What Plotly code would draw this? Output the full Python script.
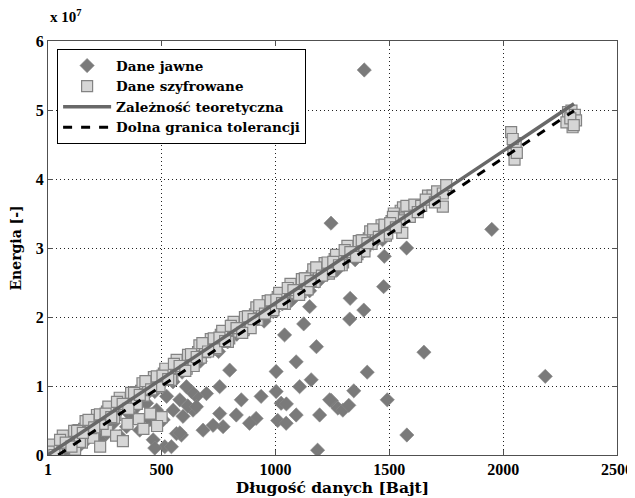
import plotly.graph_objects as go

# ---------------- data (energy in units of 10^7) ----------------
sq_x = [10, 22, 35, 47, 60, 72, 85, 97, 110, 122, 135, 147, 160, 172, 185, 197, 210, 222, 235, 247,
        260, 272, 285, 297, 310, 322, 335, 347, 360, 372, 385, 397, 410, 422, 435, 447, 460, 472, 485, 497,
        510, 522, 535, 547, 560, 572, 585, 597, 610, 622, 635, 647, 660, 672, 685, 697, 710, 722, 735, 747,
        760, 772, 785, 797, 810, 822, 835, 847, 860, 872, 885, 897, 910, 922, 935, 947, 960, 972, 985, 997,
        1010, 1022, 1035, 1047, 1060, 1072, 1085, 1097, 1110, 1122, 1135, 1147, 1160, 1172, 1185, 1197,
        1210, 1222, 1235, 1247, 1260, 1272, 1285, 1297, 1310, 1322, 1335, 1347, 1360, 1372, 1385, 1397,
        1410, 1422, 1435, 1447, 1460, 1472, 1485, 1497, 1510, 1530, 1550, 1560, 1575, 1590, 1610, 1640,
        1670, 1690, 1710, 1735, 1750, 1557, 1735, 1520, 1545, 1625, 1660, 1700,
        2035, 2045, 2050, 2055, 2060, 2042,
        2285, 2300, 2315, 2305, 2278, 2320, 2295, 2310,
        150, 200, 260, 300, 350, 400, 450, 500, 230, 120, 330, 420, 480,
        16, 41, 66, 91, 116, 141, 166, 191, 216, 241, 266, 291, 316, 341, 366, 391, 416, 441, 466, 491,
        516, 541, 566, 591, 616, 641, 666, 691, 716, 741, 766, 791, 816, 841, 866, 891, 916, 941, 966, 991,
        1016, 1041, 1066, 1091, 1116, 1141, 1166, 1191, 1216, 1241, 1266, 1291, 1316, 1341, 1366, 1391,
        1416, 1441, 1466, 1491, 1516,
        4, 29, 54, 79, 104, 129, 154, 179, 204, 229, 254, 279, 304, 329, 354, 379, 404, 429, 454, 479,
        504, 529, 554, 579, 604, 629, 654, 679, 704, 729, 754, 779, 804, 829, 854, 879, 904, 929, 954, 979,
        1004, 1029, 1054, 1079, 1104, 1129, 1154, 1179, 1204, 1229, 1254, 1279, 1304, 1329, 1354, 1379,
        1404, 1429, 1454, 1479, 1504, 1529]
sq_y = [0.08, 0.03, 0.11, 0.03, 0.21, 0.16, 0.15, 0.26, 0.15, 0.29, 0.36, 0.30, 0.38, 0.31, 0.49, 0.43, 0.42, 0.54, 0.43, 0.56,
        0.63, 0.58, 0.66, 0.58, 0.76, 0.71, 0.70, 0.81, 0.70, 0.84, 0.91, 0.86, 0.93, 0.86, 1.04, 0.99, 0.97, 1.09, 0.98, 1.12,
        1.18, 1.13, 1.21, 1.14, 1.31, 1.26, 1.25, 1.37, 1.25, 1.39, 1.46, 1.41, 1.49, 1.41, 1.59, 1.54, 1.53, 1.64, 1.53, 1.67,
        1.74, 1.68, 1.76, 1.69, 1.87, 1.81, 1.80, 1.92, 1.81, 1.94, 2.01, 1.96, 2.04, 1.96, 2.14, 2.09, 2.08, 2.19, 2.08, 2.22,
        2.29, 2.23, 2.31, 2.24, 2.42, 2.36, 2.35, 2.47, 2.36, 2.49, 2.56, 2.51, 2.59, 2.51, 2.69, 2.64,
        2.63, 2.74, 2.63, 2.77, 2.84, 2.78, 2.86, 2.79, 2.97, 2.91, 2.90, 3.02, 2.91, 3.04, 3.11, 3.06,
        3.14, 3.06, 3.24, 3.19, 3.18, 3.29, 3.18, 3.32, 3.39, 3.35, 3.54, 3.59, 3.61, 3.45, 3.63, 3.61,
        3.76, 3.76, 3.82, 3.79, 3.91, 3.22, 3.60, 3.50, 3.40, 3.52, 3.70, 3.66,
        4.68, 4.45, 4.28, 4.52, 4.38, 4.58,
        4.97, 4.99, 4.93, 4.75, 4.82, 4.85, 4.88, 4.78,
        0.18, 0.25, 0.35, 0.28, 0.45, 0.52, 0.60, 0.55, 0.12, 0.08, 0.20, 0.38, 0.42,
        0.15, 0.01, 0.28, 0.14, 0.35, 0.19, 0.49, 0.39, 0.58, 0.45, 0.70, 0.54, 0.83, 0.69, 0.90, 0.74, 1.04, 0.94, 1.13, 1.00,
        1.25, 1.09, 1.38, 1.24, 1.45, 1.29, 1.59, 1.49, 1.68, 1.55, 1.80, 1.64, 1.93, 1.79, 2.00, 1.84, 2.14, 2.04, 2.23, 2.10,
        2.35, 2.19, 2.48, 2.35, 2.55, 2.40, 2.69, 2.60, 2.78, 2.66, 2.90, 2.75, 3.03, 2.90, 3.10, 2.95,
        3.24, 3.15, 3.33, 3.21, 3.45,
        0.05, 0.00, 0.22, 0.18, 0.12, 0.35, 0.32, 0.51, 0.40, 0.59, 0.60, 0.55, 0.77, 0.74, 0.67, 0.90, 0.87, 1.07, 0.95, 1.14,
        1.15, 1.10, 1.32, 1.29, 1.22, 1.46, 1.42, 1.62, 1.50, 1.69, 1.70, 1.65, 1.87, 1.84, 1.77, 2.01, 1.97, 2.17, 2.05, 2.24,
        2.25, 2.20, 2.42, 2.39, 2.32, 2.56, 2.52, 2.72, 2.60, 2.79, 2.80, 2.75, 2.97, 2.94, 2.87, 3.11,
        3.07, 3.27, 3.16, 3.34, 3.36, 3.30]

dj_x = [30, 70, 110, 150, 190, 230, 270, 310, 350, 390, 430, 470, 510, 550, 590, 630, 670, 710, 750, 790,
        830, 870, 910, 950, 990, 1030, 1070, 1110, 1150, 1190, 1230, 1270, 1310, 1350, 1390, 1430, 1470,
        50, 90, 130, 170, 210, 250, 290, 330, 370, 410, 450, 490, 530, 570, 610, 650, 690, 730, 770, 810,
        850, 890, 930, 970, 1010, 1050, 1090, 1130, 1170, 1210, 1250, 1290, 1330, 1370, 1410, 1450,
        1390, 1244, 1950, 1576, 1478, 1475, 1328, 1388, 1326, 1180, 1652, 1403, 1344, 1245, 1274, 1296,
        1322, 1491, 1577, 1194, 1185, 2185, 1157, 1106, 1124, 1150, 1040, 1091, 1003, 799, 1238, 937,
        1003, 1025, 1048, 1091, 1010, 1047, 915, 886, 828, 850, 755, 770, 726, 682, 755, 697, 653, 580,
        638, 594, 587, 615, 631, 653, 551, 565, 507, 478, 448, 463, 514, 404, 382, 346, 317, 287, 258,
        229, 200, 171, 141, 112, 68, 434, 390, 522, 609, 470, 543, 580]
dj_y = [0.01, 0.03, 0.19, 0.18, 0.32, 0.43, 0.48, 0.63, 0.62, 0.76, 0.87, 0.92, 1.07, 1.06, 1.20, 1.31, 1.36, 1.51, 1.50, 1.64,
        1.75, 1.80, 1.96, 1.94, 2.08, 2.19, 2.24, 2.40, 2.38, 2.52, 2.63, 2.68, 2.84, 2.83, 2.96, 3.07, 3.12,
        0.07, 0.23, 0.25, 0.41, 0.42, 0.58, 0.60, 0.76, 0.78, 0.93, 0.95, 1.11, 1.13, 1.29, 1.30, 1.46, 1.48, 1.64, 1.66, 1.82,
        1.83, 1.99, 2.01, 2.17, 2.19, 2.34, 2.36, 2.52, 2.54, 2.70, 2.72, 2.87, 2.89, 3.05, 3.07, 3.23,
        5.58, 3.36, 3.27, 3.00, 2.88, 2.44, 2.27, 2.10, 1.97, 1.57, 1.49, 1.20, 0.93, 0.79, 0.68, 0.65,
        0.72, 0.80, 0.29, 0.58, 0.07, 1.14, 1.09, 0.99, 1.90, 2.15, 1.74, 1.35, 1.21, 1.23, 0.80, 0.85,
        0.92, 0.75, 0.74, 0.58, 0.50, 0.46, 0.53, 0.46, 0.58, 0.80, 0.60, 0.41, 0.43, 0.36, 0.99, 0.89, 0.85, 0.80,
        0.65, 0.56, 0.29, 0.71, 0.92, 0.70, 0.65, 0.31, 0.51, 0.65, 0.51, 0.22, 0.12, 0.36, 0.56, 0.41, 0.27, 0.46, 0.31,
        0.22, 0.36, 0.22, 0.14, 0.07, 0.05, 0.75, 0.70, 0.85, 0.99, 0.10, 0.12, 0.32]

theory_x = [1, 2311]
theory_y = [0.0022, 5.09]
lower_x = [46, 2311]
lower_y = [0.0, 4.99]

x_ticks = [1, 500, 1000, 1500, 2000, 2500]
y_ticks = [0, 1, 2, 3, 4, 5, 6]

TICK_FONT = "Liberation Serif"
TEXT_FONT = "DejaVu Serif"

fig = go.Figure()
fig.add_trace(go.Scatter(x=dj_x, y=dj_y, mode="markers", name="<b>Dane jawne</b>",
                         marker=dict(symbol="diamond", size=11, color="#7a7a7a",
                                     line=dict(width=0.6, color="#888888"))))
fig.add_trace(go.Scatter(x=sq_x, y=sq_y, mode="markers", name="<b>Dane szyfrowane</b>",
                         marker=dict(symbol="square", size=11, color="#d6d6d6",
                                     line=dict(width=1.2, color="#838383"))))
fig.add_trace(go.Scatter(x=theory_x, y=theory_y, mode="lines", name="<b>Zależność teoretyczna</b>",
                         line=dict(color="#686868", width=3.5)))
fig.add_trace(go.Scatter(x=lower_x, y=lower_y, mode="lines", name="<b>Dolna granica tolerancji</b>",
                         line=dict(color="black", width=3, dash="dash")))

axis_common = dict(showline=True, linecolor="#505050", linewidth=1.2, mirror="ticks",
                   ticks="inside", ticklen=5, tickcolor="#505050",
                   showgrid=True, gridcolor="#222222", gridwidth=1, griddash="1px,3px",
                   zeroline=False, automargin=False,
                   tickfont=dict(family=TICK_FONT, size=16, color="black"))

fig.update_xaxes(range=[1, 2500], tickvals=x_ticks, ticktext=["<b>%d</b>" % v for v in x_ticks],
                 title=dict(text="<b>Długość danych [Bajt]</b>", font=dict(family=TEXT_FONT, size=15.5, color="black"),
                            standoff=2),
                 **axis_common)
fig.update_yaxes(range=[0, 6], tickvals=y_ticks, ticktext=["<b>%d</b>" % v for v in y_ticks],
                 title=dict(text="<b>Energia [-]</b>", font=dict(family=TEXT_FONT, size=14, color="black"),
                            standoff=16),
                 **axis_common)

fig.add_annotation(text="<b>x 10<sup>7</sup></b>", xref="paper", yref="paper", x=0.0, y=1.0,
                   xanchor="left", yanchor="bottom", yshift=14, showarrow=False,
                   font=dict(family=TICK_FONT, size=15, color="black"))

# the page body adds an 8px offset, so the figure is sized to fit the window from there
fig.update_layout(
    width=627, height=490,
    margin=dict(l=40, r=18, t=33, b=43),
    paper_bgcolor="white", plot_bgcolor="white",
    showlegend=True,
    legend=dict(x=0.016, y=0.98, xanchor="left", yanchor="top",
                bgcolor="white", bordercolor="black", borderwidth=1,
                font=dict(family=TEXT_FONT, size=13.5, color="black"),
                tracegroupgap=0, itemwidth=48),
)

fig.write_html("out.html")
